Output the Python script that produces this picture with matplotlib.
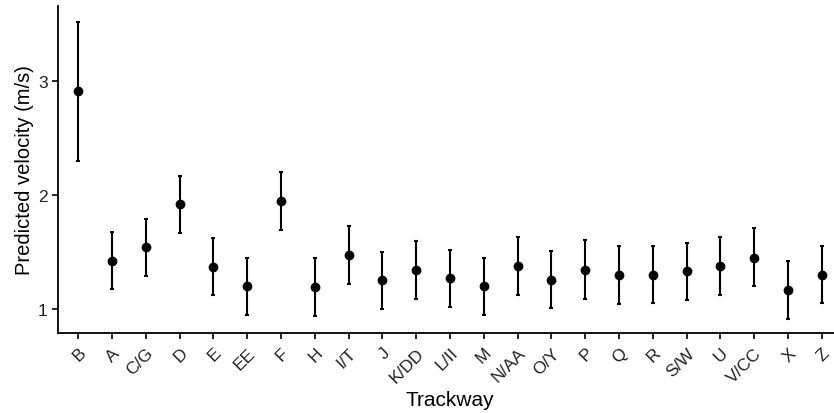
import matplotlib as mpl
import matplotlib.pyplot as plt
import numpy as np

mpl.rcParams.update({'font.family': ['Liberation Sans', 'DejaVu Sans'],
                     'font.size': 12})

# Data
trackways = ['B', 'A', 'C/G', 'D', 'E', 'EE', 'F', 'H', 'I/T', 'J', 'K/DD', 'L/II',
             'M', 'N/AA', 'O/Y', 'P', 'Q', 'R', 'S/W', 'U', 'V/CC', 'X', 'Z']
velocity = [2.916, 1.42, 1.54, 1.92, 1.37, 1.197, 1.946, 1.19, 1.47, 1.25, 1.34, 1.27,
            1.197, 1.378, 1.255, 1.343, 1.296, 1.30, 1.33, 1.375, 1.45, 1.164, 1.30]
upper = [3.52, 1.67, 1.79, 2.17, 1.62, 1.45, 2.20, 1.45, 1.73, 1.50, 1.595, 1.52,
         1.45, 1.63, 1.51, 1.60, 1.55, 1.553, 1.58, 1.63, 1.707, 1.42, 1.553]
lower = [2.30, 1.17, 1.29, 1.665, 1.12, 0.945, 1.69, 0.94, 1.22, 1.00, 1.085, 1.015,
         0.947, 1.123, 1.003, 1.09, 1.044, 1.047, 1.076, 1.123, 1.20, 0.91, 1.047]

x = np.arange(1, len(trackways) + 1)
y = np.array(velocity)
yerr = [y - np.array(lower), np.array(upper) - y]

fig = plt.figure(figsize=(8.34, 4.14), dpi=100)
ax = fig.add_axes([58 / 834, 80 / 414, (842 - 58) / 834, 327 / 414])

ax.errorbar(x, y, yerr=yerr, fmt='o', color='black', ms=6, elinewidth=1.5,
            capsize=1.5, capthick=1.5)

ax.set_xlim(0.4, len(trackways) + 0.6)
ax.set_ylim(0.787, 3.66)
ax.set_yticks([1, 2, 3])
ax.set_xticks(x)
ax.set_xticklabels(trackways, rotation=45, ha='right', rotation_mode='anchor')

for side in ['top', 'right']:
    ax.spines[side].set_visible(False)
for side in ['left', 'bottom']:
    ax.spines[side].set_linewidth(1.3)
ax.tick_params(length=4.5, width=1.2, color='black', labelsize=12.5, labelcolor='#222222')
ax.tick_params(axis='x', pad=4)
ax.tick_params(axis='y', pad=3)

ax.set_xlabel('Trackway', fontsize=15, labelpad=4)
ax.set_ylabel('Predicted velocity (m/s)', fontsize=14.5, labelpad=3)

fig.savefig('out.png', dpi=100)
